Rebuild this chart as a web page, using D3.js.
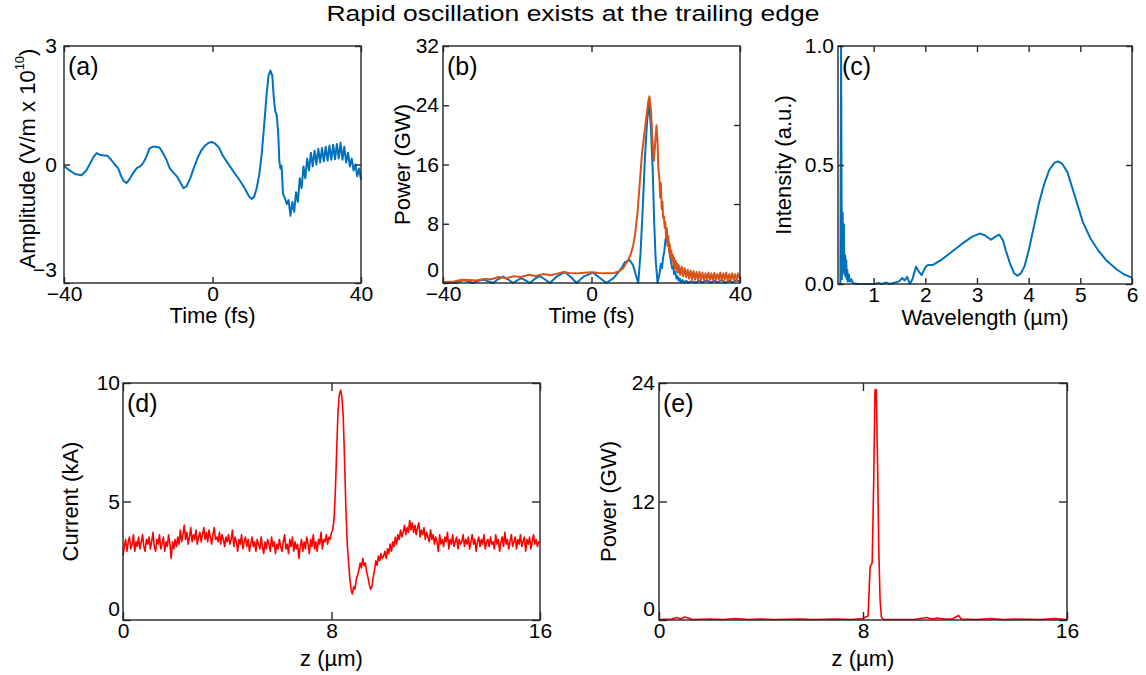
<!DOCTYPE html>
<html>
<head>
<meta charset="utf-8">
<style>
  body { margin: 0; background: #fff; }
  text { font-family: "Liberation Sans", Arial, Helvetica, sans-serif; fill: #000; }
  .frame { fill: none; stroke: #262626; stroke-width: 1.4; }
  .tick line { stroke: #262626; stroke-width: 1.4; }
  .domain { display: none; }
</style>
</head>
<body>
<svg id="fig" width="1146" height="675"></svg>
<script src="https://cdn.jsdelivr.net/npm/d3@7/dist/d3.min.js"></script>
<script>
// (a) electric field vs time
const aTime = [-40, -38.5, -37, -35.3, -34, -33, -32, -31.2, -30.2, -29.2, -28.3, -27.3, -26.3, -25.4, -24.6, -23.9, -23.2, -22.4, -21.4, -20.4,
  -19.4, -18.6, -17.8, -17, -16.2, -15.2, -14.3, -13.4, -12.4, -11.5, -10.6, -9.6, -8.7, -7.8, -7, -6, -5, -4, -3, -2,
  -1, -0.2, 0.8, 1.8, 2.8, 3.8, 4.8, 5.8, 6.8, 7.8, 8.8, 9.8, 10.5, 11.2, 11.9, 12.6, 13.3, 14, 14.6, 15.1,
  15.6, 16.1, 16.5, 16.9, 17.3, 17.7, 18, 18.3, 18.6, 19, 19.5, 20, 20.5, 21, 21.5, 22, 22.5, 23, 23.5, 24,
  24.5, 25, 25.5, 26, 26.5, 27, 27.5, 28, 28.5, 29, 29.5, 30, 30.5, 31, 31.5, 32, 32.5, 33, 33.5, 34,
  34.5, 35, 35.5, 36, 36.5, 37, 37.5, 38, 38.5, 39, 39.5, 40]
const aField = [-0.03, -0.15, -0.24, -0.27, -0.15, 0.02, 0.2, 0.29, 0.24, 0.23, 0.22, 0.12, 0, -0.1, -0.3, -0.42, -0.47, -0.38, -0.22, -0.09,
  -0.04, 0.05, 0.2, 0.4, 0.45, 0.45, 0.43, 0.3, 0.12, -0.1, -0.2, -0.3, -0.45, -0.6, -0.55, -0.35, -0.08, 0.17, 0.36, 0.48,
  0.55, 0.57, 0.52, 0.42, 0.22, 0.08, -0.06, -0.2, -0.33, -0.47, -0.62, -0.8, -0.87, -0.82, -0.6, -0.25, 0.3, 1.1, 1.8, 2.25,
  2.38, 2.25, 1.7, 1.35, 1.25, 0.8, 0.1, -0.1, -0.03, -0.75, -0.85, -1, -0.9, -1.3, -0.95, -1.2, -0.7, -0.95, -0.35, -0.6,
  -0.05, -0.35, 0.15, -0.15, 0.3, -0.05, 0.35, 0, 0.4, 0.05, 0.42, 0.08, 0.45, 0.1, 0.48, 0.12, 0.5, 0.13, 0.52, 0.15,
  0.55, 0.12, 0.45, 0.05, 0.3, -0.05, 0.15, -0.15, 0, -0.3, -0.1, -0.38]

// (b) power vs time: blue (one component) and orange (total)
const bTimeBlue = [-40, -38, -36.4, -35.2, -34.2, -33, -31.9, -30.5, -29.2, -28, -26.5, -25.2, -23.8, -22.5, -21.1, -20, -18.9, -17.8, -16.6, -15.3,
  -13.9, -12.6, -11.2, -9.3, -7.2, -5.6, -4, -2, 0.4, 2.2, 4, 6, 7.8, 9, 10.3, 11.2, 12, 12.6, 13.2, 13.8,
  14.4, 15, 15.5, 16, 16.5, 16.9, 17.3, 17.8, 18.3, 18.7, 19, 19.3, 19.6, 19.9, 20.2, 20.5, 20.8, 21.1, 21.4, 21.7,
  22, 22.3, 22.6, 22.9, 23.2, 23.5, 23.8, 24.1, 24.5, 25, 25.5, 26, 27, 28, 29, 30, 31, 32, 33, 34,
  35, 36, 37, 38, 39, 40]
const bPowerBlue = [0, 0.05, 0, 0.3, 0.38, 0.2, 0, 0.3, 0.45, 0.25, 0, 0.5, 0.85, 0.5, 0, 0.35, 0.65, 0.35, 0, 0.55,
  0.95, 0.5, 0, 0.9, 1.5, 0.8, 0, 0.9, 1.4, 0.7, 0, 0.7, 1.8, 2.8, 3.1, 2.4, 1, 0, 4, 10,
  17, 22, 24.3, 21, 15, 8, 3, 0, 1.2, 2.6, 2, 3.5, 4.2, 5.8, 6.3, 5.2, 5.5, 3.8, 3, 2,
  2.2, 1.2, 1.5, 0.6, 0.9, 0.3, 0.6, 0.1, 0.4, 0.05, 0.3, 0.05, 0.25, 0.05, 0.3, 0.1, 0.35, 0.05, 0.3, 0.1,
  0.4, 0.05, 0.3, 0.1, 0.35, 0.2]
const bTimeTotal = [-40, -37, -35, -33, -31, -29, -27, -25, -23, -21, -19, -17, -15, -13, -11, -9, -7.5, -6, -4, -2,
  0, 2, 4, 6, 7.5, 8.5, 9.5, 10.5, 11.2, 11.8, 12.4, 13, 13.6, 14.2, 14.8, 15.3, 15.6, 16, 16.4, 16.8,
  17.1, 17.5, 17.8, 18, 18.3, 18.5, 18.7, 18.9, 19.1, 19.3, 19.5, 19.7, 19.9, 20.1, 20.3, 20.5, 20.7, 20.9, 21.1, 21.3,
  21.5, 21.7, 21.9, 22.1, 22.3, 22.5, 22.7, 22.9, 23.1, 23.3, 23.5, 23.9, 24.3, 24.7, 25.1, 25.5, 25.9, 26.3, 26.7, 27.1,
  27.5, 27.9, 28.3, 28.7, 29.1, 29.5, 29.9, 30.3, 30.7, 31.1, 31.5, 31.9, 32.3, 32.7, 33.1, 33.5, 33.9, 34.3, 34.7, 35.1,
  35.5, 35.9, 36.3, 36.7, 37.1, 37.5, 37.9, 38.3, 38.7, 39.1, 39.5, 40]
const bPowerTotal = [0.1, 0.2, 0.45, 0.4, 0.35, 0.55, 0.5, 0.8, 0.65, 0.9, 0.8, 1.1, 0.95, 1.2, 1.05, 1.3, 1.5, 1.35, 1.3, 1.4,
  1.45, 1.35, 1.3, 1.35, 1.6, 2, 2.8, 3.8, 5, 6.8, 9.5, 13.5, 17.5, 20, 22.5, 24.5, 25.2, 23.5, 19.5, 16.5,
  18.5, 21.3, 19, 15.5, 14, 11.5, 13.5, 10, 11, 8.8, 9, 7.5, 8.2, 6, 7.4, 5, 6.3, 4.2, 5.2, 3.5,
  4.4, 3, 3.8, 2.4, 3.4, 2, 3, 1.7, 2.6, 1.4, 2.4, 1.1, 2.2, 0.9, 2, 0.8, 1.8, 0.6, 1.7, 0.5,
  1.6, 0.45, 1.5, 0.4, 1.5, 0.45, 1.4, 0.4, 1.3, 0.5, 1.4, 0.4, 1.3, 0.45, 1.35, 0.4, 1.2, 0.5, 1.4, 0.4,
  1.3, 0.45, 1.4, 0.35, 1.2, 0.4, 1.3, 0.45, 1.2, 0.35, 1.3, 0.6]

// (c) spectrum
const cWavelength = [0.33, 0.355, 0.37, 0.385, 0.4, 0.41, 0.425, 0.435, 0.45, 0.46, 0.47, 0.48, 0.49, 0.5, 0.52, 0.54, 0.57, 0.6, 0.7, 1,
  1.1, 1.15, 1.25, 1.3, 1.4, 1.5, 1.55, 1.6, 1.65, 1.7, 1.75, 1.82, 1.88, 1.93, 2, 2.05, 2.15, 2.3, 2.45, 2.6,
  2.75, 2.9, 3.05, 3.15, 3.27, 3.35, 3.43, 3.5, 3.56, 3.64, 3.72, 3.78, 3.85, 3.92, 4, 4.1, 4.2, 4.3, 4.4, 4.5,
  4.57, 4.65, 4.75, 4.85, 4.95, 5.05, 5.2, 5.35, 5.5, 5.7, 5.85, 6]
const cIntensity = [0, 0, 1, 0.02, 0.3, 0.05, 0.25, 0.04, 0.12, 0.03, 0.1, 0.02, 0.06, 0.01, 0.04, 0.01, 0.02, 0.003, 0, 0,
  0.004, 0, 0.006, 0, 0.005, 0.012, 0.025, 0.015, 0.03, 0, 0.02, 0.073, 0.05, 0.038, 0.07, 0.08, 0.08, 0.1, 0.125, 0.15,
  0.175, 0.198, 0.212, 0.205, 0.186, 0.198, 0.208, 0.185, 0.14, 0.085, 0.045, 0.035, 0.045, 0.075, 0.14, 0.24, 0.34, 0.42, 0.48, 0.51,
  0.515, 0.505, 0.47, 0.4, 0.33, 0.26, 0.19, 0.14, 0.1, 0.062, 0.04, 0.027]

// (d) current profile, sampled every 0.05 um from z = 0
const dStart = 0, dStep = 0.05
const dCurrent = [
  2.7, 3.1, 3.4, 2.9, 3.3, 3.5, 3.0, 3.2, 3.6, 2.9, 3.3, 3.1, 3.5, 3.0, 3.3, 3.6, 3.1, 2.9, 3.4, 3.2,
  3.5, 3.0, 3.3, 3.7, 3.1, 2.9, 3.4, 3.2, 3.6, 3.0, 3.2, 3.5, 2.9, 3.3, 3.1, 3.6, 3.2, 2.6, 3.3, 3.0,
  3.4, 3.1, 3.5, 3.2, 3.8, 3.3, 3.6, 4.0, 3.4, 3.7, 3.2, 3.5, 3.9, 3.3, 3.6, 3.4, 3.8, 3.2, 3.5, 3.7,
  3.3, 3.6, 3.9, 3.4, 3.7, 3.3, 3.8, 3.5, 3.2, 3.6, 3.9, 3.4, 3.5, 3.3, 3.7, 3.2, 3.6, 3.4, 3.1, 3.5,
  3.3, 3.6, 3.2, 3.4, 3.8, 3.1, 3.5, 3.3, 2.9, 3.4, 3.2, 3.6, 3.0, 3.3, 3.5, 3.1, 3.4, 2.9, 3.2, 3.5,
  3.1, 3.3, 2.9, 3.4, 3.2, 3.0, 3.5, 3.1, 2.8, 3.3, 3.0, 3.4, 3.2, 2.9, 3.5, 3.1, 3.3, 2.8, 3.2, 3.0,
  3.4, 3.1, 2.9, 3.3, 3.6, 3.0, 3.2, 2.8, 3.4, 3.1, 3.5, 2.9, 3.3, 3.0, 3.2, 2.6, 3.1, 3.4, 2.9, 3.3,
  3.0, 3.5, 3.2, 2.8, 3.4, 3.1, 3.6, 3.0, 3.3, 2.9, 3.4, 3.2, 3.7, 3.0, 3.4, 3.3, 3.6, 3.2, 3.5, 3.4,
  3.7, 3.8, 4.3, 5.5, 7.2, 8.8, 9.5, 9.7, 9.4, 8.6, 6.8, 4.8, 3.3, 2.5, 1.8, 1.3, 1.1, 1.4, 1.3, 1.7,
  1.9, 2.1, 2.4, 2.2, 2.6, 2.3, 2.4, 2.0, 1.8, 1.5, 1.3, 1.4, 1.8, 2.1, 2.5, 2.3, 2.7, 2.5, 2.8, 2.6,
  2.7, 2.9, 2.6, 3.0, 2.8, 3.2, 2.9, 3.3, 3.1, 3.5, 3.2, 3.6, 3.4, 3.8, 3.5, 3.7, 4.0, 3.6, 3.9, 3.7,
  4.2, 3.8, 4.1, 3.7, 4.0, 3.6, 3.9, 4.1, 3.5, 3.8, 3.6, 3.9, 3.4, 3.7, 3.5, 3.3, 3.8, 3.4, 3.6, 3.2,
  3.5, 3.3, 2.9, 3.6, 3.2, 3.4, 3.1, 3.5, 3.3, 3.7, 3.0, 3.4, 3.2, 3.6, 3.1, 3.3, 3.5, 3.0, 3.4, 3.2,
  3.3, 3.6, 3.1, 3.4, 3.2, 3.5, 3.0, 3.3, 3.6, 3.2, 3.4, 2.9, 3.3, 3.5, 3.1, 3.4, 3.2, 3.6, 3.0, 3.3,
  3.4, 3.1, 3.5, 3.2, 3.3, 3.0, 3.6, 3.2, 3.4, 2.9, 3.3, 3.5, 3.1, 3.7, 3.2, 3.4, 3.0, 3.3, 3.6, 3.1,
  3.3, 3.5, 3.0, 3.4, 3.2, 3.6, 3.1, 3.3, 3.5, 2.9, 3.4, 3.2, 3.5, 3.0, 3.3, 3.6, 3.2, 3.4, 3.1, 3.3,
  3.3]

// (e) power along z
const ePosition = [0, 0.5, 0.7, 0.85, 1, 1.15, 1.3, 2, 2.5, 3, 3.5, 4, 4.5, 5.5, 6, 7, 7.5, 8, 8.1, 8.2,
  8.24, 8.28, 8.36, 8.42, 8.47, 8.52, 8.57, 8.62, 8.67, 8.72, 8.8, 9, 10, 10.5, 10.7, 10.9, 11.2, 11.5, 11.75, 11.85,
  12.5, 13, 13.5, 14, 15, 15.5, 16]
const ePower = [0.05, 0.1, 0.25, 0.1, 0.3, 0.2, 0.05, 0.1, 0.05, 0.15, 0.05, 0.1, 0.05, 0.1, 0.05, 0.1, 0.05, 0.15, 0.3, 0.4,
  3, 5.4, 5.8, 14, 23.3, 23.3, 16, 7, 2, 0.3, 0.05, 0.05, 0.05, 0.25, 0.1, 0.2, 0.1, 0.1, 0.45, 0.1,
  0.05, 0.15, 0.05, 0.1, 0.05, 0.15, 0.05]

// ticks
const timeTicks = [-40, 0, 40]
const aFieldTicks = [-3, 0, 3]
const bPowerTicks = [0, 8, 16, 24, 32]
const bRightTicks = [1, 2], bRightMax = 3
const cWaveTicks = [1, 2, 3, 4, 5, 6]
const cIntensityTicks = [0, 0.5, 1]
const zTicks = [0, 8, 16]
const dCurrentTicks = [0, 5, 10]
const ePowerTicks = [0, 12, 24]

const blue = "#0072BD", orange = "#D95319", red = "#FF0000"

const svg = d3.select("#fig")

svg.append("text")
  .attr("x", 573).attr("y", 21)
  .attr("text-anchor", "middle")
  .attr("textLength", 493).attr("lengthAdjust", "spacingAndGlyphs")
  .style("font-size", "22px")
  .text("Rapid oscillation exists at the trailing edge")

function pairs(xs, ys) {
  return xs.map((x, i) => [x, ys[i]])
}

function panel(p) {
  let g = svg.append("g").attr("transform", `translate(${p.left},${p.top})`)
  let x = d3.scaleLinear().domain(p.xDomain).range([0, p.width])
  let y = d3.scaleLinear().domain(p.yDomain).range([p.height, 0])
  let len = p.tickLen

  let clipId = "clip" + p.key
  g.append("clipPath").attr("id", clipId)
    .append("rect").attr("width", p.width).attr("height", p.height)

  let plot = g.append("g").attr("clip-path", `url(#${clipId})`)
  let line = d3.line().x(d => x(d[0])).y(d => y(d[1]))
  for (let s of p.series) {
    plot.append("path")
      .attr("d", line(s.data))
      .attr("fill", "none")
      .attr("stroke", s.color)
      .attr("stroke-width", s.width || 1.8)
      .attr("stroke-linejoin", "round")
  }

  g.append("g").attr("transform", `translate(0,${p.height})`)
    .call(d3.axisBottom(x).tickValues(p.xTicks).tickSize(-len).tickPadding(p.xPad).tickFormat(d3.format("d")))
    .call(a => a.selectAll("text").style("font-size", "21px").attr("fill", "#000"))
  g.append("g")
    .call(d3.axisTop(x).tickValues(p.xTicks).tickSize(-len).tickFormat(""))
  let left = g.append("g")
    .call(d3.axisLeft(y).tickValues(p.yTicks).tickSize(-len).tickPadding(p.yPad).tickFormat(p.yFormat))
    .call(a => a.selectAll("text").style("font-size", "21px").attr("fill", "#000"))
  // lift the lowest y label where it would run into the x labels at the corner
  if (p.cornerLift) {
    left.selectAll(".tick text").filter(d => d === p.yDomain[0]).attr("dy", p.cornerLift)
  }
  let yr = p.rightScale || y
  g.append("g").attr("transform", `translate(${p.width},0)`)
    .call(d3.axisRight(yr).tickValues(p.rightTicks || p.yTicks).tickSize(-len).tickFormat(""))

  g.append("rect").attr("class", "frame").attr("width", p.width).attr("height", p.height)

  g.append("text")
    .attr("x", 4).attr("y", 29)
    .style("font-size", "25px")
    .text(p.key)

  g.append("text")
    .attr("x", p.width / 2).attr("y", p.height + p.xLabelGap)
    .attr("text-anchor", "middle")
    .style("font-size", "22px")
    .text(p.xLabel)

  let yl = g.append("text")
    .attr("transform", `translate(${p.yLabelX},${p.height / 2 + (p.yLabelShift || 0)}) rotate(-90)`)
    .attr("text-anchor", "middle")
    .attr("dominant-baseline", "central")
    .style("font-size", "22px")
  if (p.yLabelSup) {
    yl.append("tspan").text(p.yLabel)
    yl.append("tspan").attr("dy", -8).style("font-size", "13px").text(p.yLabelSup)
    yl.append("tspan").attr("dy", 8).text(")")
  } else {
    yl.text(p.yLabel)
  }
}

panel({
  key: "(a)", left: 64, top: 46, width: 297, height: 237,
  xDomain: [-40, 40], yDomain: [-3, 3], xTicks: timeTicks, yTicks: aFieldTicks,
  yFormat: d3.format("d"), tickLen: 6, xPad: 3, yPad: 7, cornerLift: "-0.3em",
  xLabel: "Time (fs)", xLabelGap: 40,
  yLabel: "Amplitude (V/m x 10", yLabelSup: "10", yLabelX: -37, yLabelShift: -6,
  series: [{ data: pairs(aTime, aField), color: blue, width: 2 }]
})

panel({
  key: "(b)", left: 443, top: 46, width: 297, height: 237,
  xDomain: [-40, 40], yDomain: [0, 32], xTicks: timeTicks, yTicks: bPowerTicks,
  yFormat: d3.format("d"), tickLen: 6, xPad: 3, yPad: 4, cornerLift: "-0.3em",
  rightScale: d3.scaleLinear().domain([0, bRightMax]).range([237, 0]), rightTicks: bRightTicks,
  xLabel: "Time (fs)", xLabelGap: 40,
  yLabel: "Power (GW)", yLabelX: -41,
  series: [
    { data: pairs(bTimeBlue, bPowerBlue), color: blue, width: 2 },
    { data: pairs(bTimeTotal, bPowerTotal), color: orange, width: 2 }
  ]
})

panel({
  key: "(c)", left: 838, top: 46, width: 294, height: 238,
  xDomain: [0.31, 6], yDomain: [0, 1], xTicks: cWaveTicks, yTicks: cIntensityTicks,
  yFormat: d3.format(".1f"), tickLen: 6, xPad: 3, yPad: 4,
  xLabel: "Wavelength (\u00b5m)", xLabelGap: 41,
  yLabel: "Intensity (a.u.)", yLabelX: -55,
  series: [{ data: pairs(cWavelength, cIntensity), color: blue, width: 2 }]
})

panel({
  key: "(d)", left: 123, top: 383, width: 417, height: 237,
  xDomain: [0, 16], yDomain: [0, 10], xTicks: zTicks, yTicks: dCurrentTicks,
  yFormat: d3.format("d"), tickLen: 8, xPad: 3, yPad: 3, cornerLift: "-0.2em",
  xLabel: "z (\u00b5m)", xLabelGap: 46,
  yLabel: "Current (kA)", yLabelX: -53,
  series: [{ data: dCurrent.map((v, i) => [dStart + i * dStep, v]), color: red, width: 1.6 }]
})

panel({
  key: "(e)", left: 659, top: 383, width: 408, height: 237,
  xDomain: [0, 16], yDomain: [0, 24], xTicks: zTicks, yTicks: ePowerTicks,
  yFormat: d3.format("d"), tickLen: 8, xPad: 3, yPad: 4, cornerLift: "-0.2em",
  xLabel: "z (\u00b5m)", xLabelGap: 46,
  yLabel: "Power (GW)", yLabelX: -51,
  series: [{ data: pairs(ePosition, ePower), color: red, width: 1.6 }]
})
</script>
</body>
</html>
